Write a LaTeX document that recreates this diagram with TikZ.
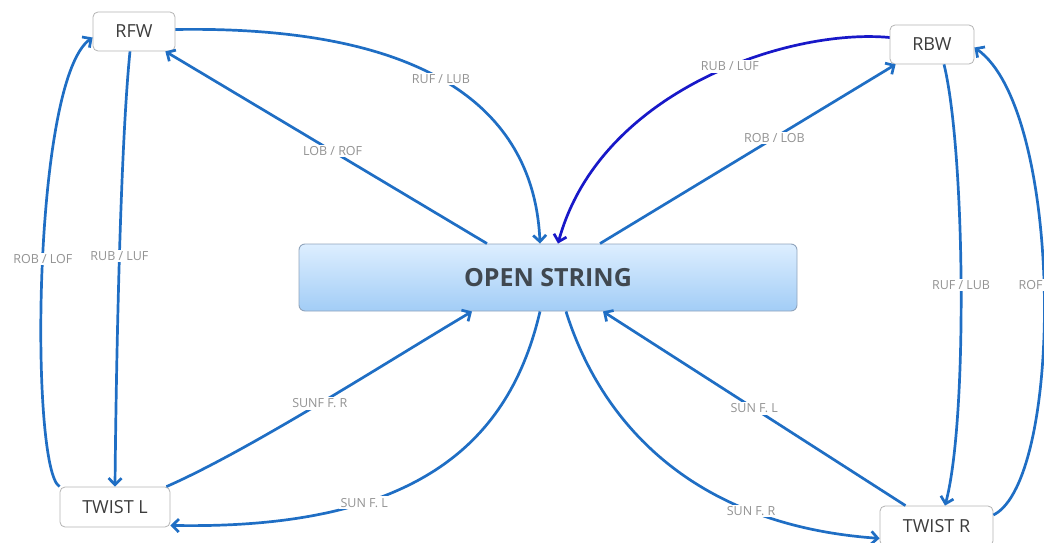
\documentclass[tikz,border=0pt]{standalone}
\usepackage{fontspec}
\setmainfont{Open Sans}
\usetikzlibrary{arrows.meta,calc}
\definecolor{edgeblue}{HTML}{1F6EC4}
\definecolor{darkedge}{HTML}{1818C8}
\definecolor{boxgray}{HTML}{B4B4B4}
\definecolor{textdark}{HTML}{3C3C3C}
\definecolor{lblgray}{HTML}{939393}
\definecolor{opentop}{HTML}{DDEEFF}
\definecolor{openbot}{HTML}{A2CDF6}
\definecolor{openedge}{HTML}{90A4BC}
\definecolor{opentext}{HTML}{404850}
\begin{document}
\begin{tikzpicture}[x=1pt,y=-1pt,
  box/.style={draw=boxgray, line width=0.8pt, rounded corners=5pt, fill=white,
    font=\fontsize{18}{20}\selectfont, text=textdark, inner sep=0pt},
  openbox/.style={draw=openedge, line width=0.9pt, rounded corners=6pt,
    top color=opentop, bottom color=openbot, inner sep=0pt,
    font=\bfseries\fontsize{25}{28}\selectfont, text=opentext},
  conn/.style={draw=edgeblue, line width=2.7pt, -{Straight Barb[length=6.5pt,width=13pt]}},
  lbl/.style={fill=white, text=lblgray, font=\fontsize{12.5}{14}\selectfont, inner sep=1.5pt},
]
\useasboundingbox (0,0) rectangle (1044,543);

% nodes
\node[box, minimum width=82pt, minimum height=39pt] (rfw) at (134,31.5) {RFW};
\node[box, minimum width=84pt, minimum height=39pt] (rbw) at (932,44.5) {RBW};
\node[box, minimum width=110pt, minimum height=40pt] (twl) at (115,507) {TWIST L};
\node[box, minimum width=113pt, minimum height=40pt] (twr) at (936.5,526) {TWIST R};
\node[openbox, minimum width=498pt, minimum height=67pt] (open) at (548,277.5) {OPEN STRING};

% top left
\draw[conn] ([yshift=2pt]rfw.east) .. controls (450,25) and (535,125) .. ([xshift=-8pt]open.north)
  node[lbl, pos=0.45] {RUF / LUB};
\draw[conn] ([xshift=-61pt]open.north) -- ([xshift=-10pt]rfw.south east)
  node[lbl, pos=0.48] {LOB / ROF};

% top right
\draw[conn, draw=darkedge] ([yshift=7pt]rbw.west) .. controls (790,28) and (600,90) .. ([xshift=10pt]open.north)
  node[lbl, pos=0.43] {RUB / LUF};
\draw[conn] ([xshift=52pt]open.north) -- ([xshift=6pt]rbw.south west)
  node[lbl, pos=0.59] {ROB / LOB};

% left side
\draw[conn] ([xshift=-4pt]rfw.south) .. controls (120,150) and (116,380) .. (twl.north)
  node[lbl, pos=0.48] {RUB / LUF};
\draw[conn] (twl.north west) .. controls (30,470) and (32,80) .. ([yshift=-6pt]rfw.west)
  node[lbl, pos=0.52] {ROB / LOF};

% right side
\draw[conn] ([xshift=12pt]rbw.south) .. controls (965,150) and (968,420) .. ([xshift=8.5pt]twr.north)
  node[lbl, pos=0.5] {RUF / LUB};
\draw[conn] ([yshift=11pt]twr.east) .. controls (1064,480) and (1064,110) .. ([yshift=-3pt]rbw.east);
\node[lbl, anchor=west] (roflbl) at (1017,285) {ROF};

% bottom left
\draw[conn] ([xshift=-4pt]twl.north east) .. controls (250,450) and (390,360) .. ([xshift=-76pt]open.south)
  node[lbl, pos=0.5] {SUNF F. R};
\draw[conn] ([xshift=-8pt]open.south) .. controls (510,440) and (420,530) .. ([yshift=2pt]twl.south east)
  node[lbl, pos=0.68] {SUN F. L};

% bottom right
\draw[conn] ([xshift=18pt]open.south) .. controls (600,420) and (690,525) .. ([yshift=8pt]twr.south west)
  node[lbl, pos=0.74] {SUN F. R};
\draw[conn] ([xshift=-31pt]twr.north) -- ([xshift=55pt]open.south)
  node[lbl, pos=0.5] {SUN F. L};
\end{tikzpicture}
\end{document}
